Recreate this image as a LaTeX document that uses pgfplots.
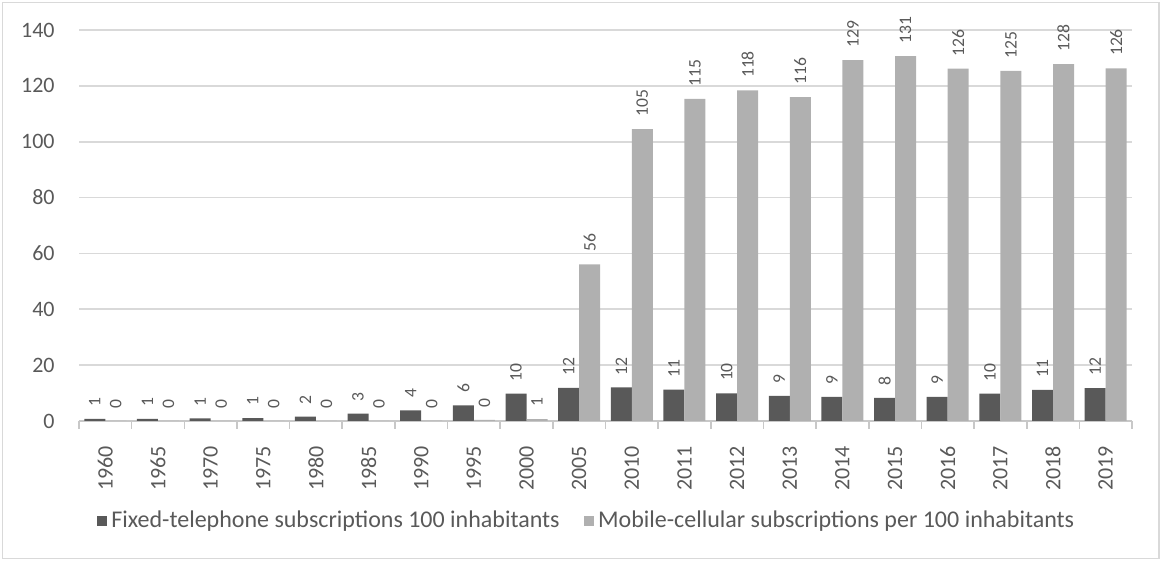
\documentclass[border=0pt]{standalone}
\usepackage{pgfplots}
\pgfplotsset{compat=1.18}
\usepackage{fontspec}
\setmainfont{Carlito}
\definecolor{fixedc}{HTML}{595959}
\definecolor{mobilec}{HTML}{B0B0B0}
\definecolor{gridc}{HTML}{D9D9D9}
\definecolor{axisc}{HTML}{C8C8C8}
\definecolor{textc}{HTML}{595959}
\pgfplotsset{/pgf/number format/assume math mode=true}

\begin{document}
\begin{tikzpicture}
\useasboundingbox (0,0) rectangle (580.5pt,280.5pt);
\draw[gridc, line width=0.8pt] (1.25pt,1.25pt) rectangle (579.5pt,279.25pt);
\begin{axis}[
  at={(39.5pt,70pt)}, anchor=south west,
  width=526.5pt, height=195.5pt, scale only axis,
  ybar=0pt, bar width=10.5pt,
  xmin=-0.5, xmax=19.5, ymin=0, ymax=140,
  axis x line*=bottom, axis y line*=left,
  y axis line style={draw=none},
  x axis line style={axisc, line width=0.8pt},
  ymajorgrids, grid style={gridc, line width=0.8pt},
  ytick={0,20,...,140},
  xtick={0,...,19},
  xticklabels={1960,1965,1970,1975,1980,1985,1990,1995,2000,2005,2010,2011,2012,2013,2014,2015,2016,2017,2018,2019},
  xtick style={draw=none}, ytick style={draw=none},
  extra x ticks={-0.5,0.5,...,19.5},
  extra x tick labels={},
  extra x tick style={xtick style={draw=axisc, line width=0.8pt}, tick align=outside, major tick length=4pt, grid=none},
  tick label style={font=\fontsize{11}{13}\selectfont, text=textc},
  xticklabel style={rotate=90, anchor=east, inner xsep=8pt, inner ysep=0pt},
  yticklabel style={inner sep=0pt, xshift=-12pt},
  nodes near coords={\hspace*{6pt}\pgfmathprintnumber[fixed,precision=0]{\pgfplotspointmeta}},
  nodes near coords style={rotate=90, anchor=west, inner sep=0pt,
    font=\fontsize{8.8}{10}\selectfont, text=textc},
  legend style={at={(0.483,-0.256)}, anchor=center, draw=none, fill=none,
    legend columns=2, font=\fontsize{12}{14}\selectfont, text=textc,
    /tikz/every even column/.append style={column sep=10pt}},
  legend image code/.code={\fill[#1] (0pt,-2.6pt) rectangle (5.2pt,2.6pt);},
]
\addplot[fill=fixedc, draw=none] coordinates {
(0,0.8) (1,0.8) (2,0.9) (3,1.0) (4,1.6) (5,2.6) (6,3.8) (7,5.6) (8,9.8) (9,11.9)
(10,12.0) (11,11.2) (12,9.9) (13,9.0) (14,8.6) (15,8.3) (16,8.6) (17,9.8) (18,11.1) (19,11.8)
};
\addplot[fill=mobilec, draw=none] coordinates {
(0,0) (1,0) (2,0) (3,0) (4,0) (5,0) (6,0.1) (7,0.4) (8,0.7) (9,56.1)
(10,104.5) (11,115.3) (12,118.4) (13,116.0) (14,129.2) (15,130.6) (16,126.2) (17,125.4) (18,127.8) (19,126.3)
};
\legend{Fixed-telephone subscriptions 100 inhabitants, Mobile-cellular subscriptions per 100 inhabitants}
\end{axis}
\end{tikzpicture}
\end{document}
